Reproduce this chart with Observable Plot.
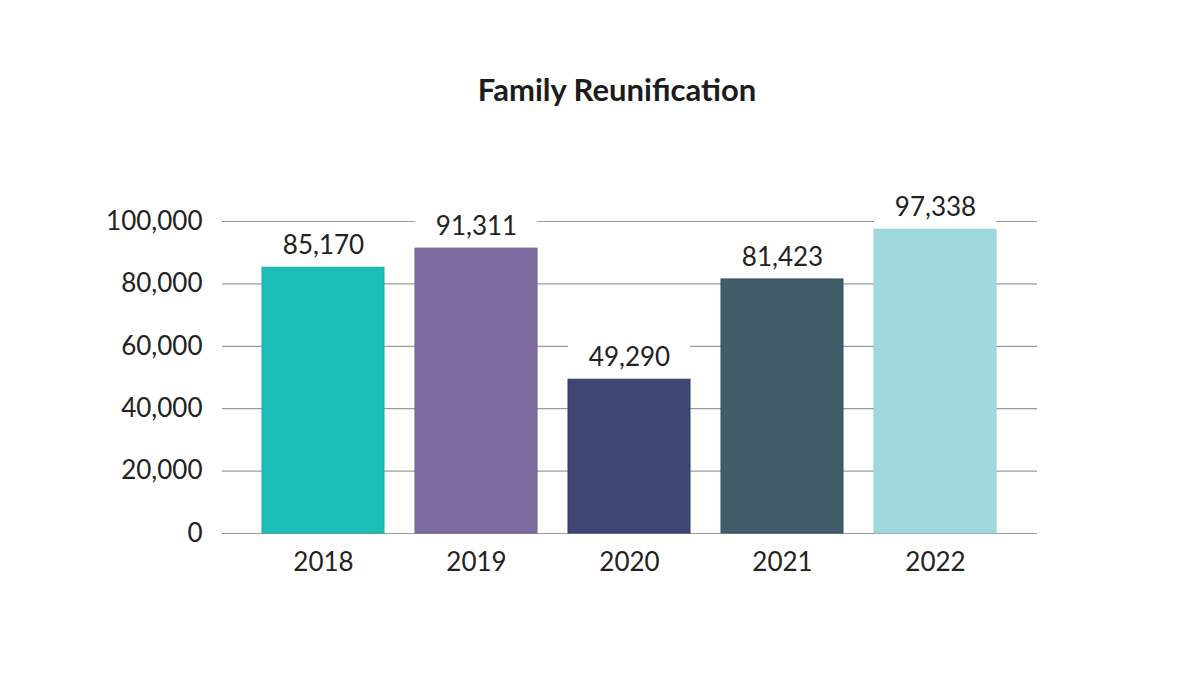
<!DOCTYPE html>
<html>
<head>
<meta charset="utf-8">
<script src="https://cdn.jsdelivr.net/npm/d3@7"></script>
<script src="https://cdn.jsdelivr.net/npm/@observablehq/plot@0.6"></script>
<style>
  html, body { margin: 0; padding: 0; background: #fff; }
  #wrap { width: 1200px; height: 692px; position: relative; overflow: hidden; }
  #title { position: absolute; left: 0; top: 67px; width: 1234px; height: 44px; text-align: center;
           font-family: Lato, "Noto Sans", sans-serif; font-weight: 700; font-size: 31px; color: #1c1c1c;
           line-height: 44px; }
  #chart { position: absolute; left: 0; top: 130px; }
</style>
</head>
<body>
<div id="wrap">
  <div id="title">Family Reunification</div>
  <div id="chart"></div>
</div>
<script>
const years = ["2018", "2019", "2020", "2021", "2022"];
const values = [85170, 91311, 49290, 81423, 97338];
const colors = ["#1dbdb8", "#7d6b9e", "#3e4473", "#415c6b", "#9fd9de"];
const strokes = ["#19aca7", "#6f5f8f", "#343a66", "#37515f", "#93cfd4"];
const yTicks = [0, 20000, 40000, 60000, 80000, 100000];

const data = years.map((y, i) => ({year: y, value: values[i], color: colors[i], stroke: strokes[i]}));
const fmt = d3.format(",");

const plot = Plot.plot({
  width: 1200,
  height: 562,
  marginLeft: 222,
  marginRight: 163,
  marginTop: 91,
  marginBottom: 159,
  insetLeft: 23,
  insetRight: 23,
  style: {fontFamily: "Lato, 'Noto Sans', sans-serif", fontSize: "26px", color: "#1a1a1a", background: "#fff"},
  x: {domain: years, paddingInner: 0.2, paddingOuter: 0.1, label: null},
  y: {domain: [0, 100000], label: null},
  marks: [
    Plot.ruleY(yTicks, {stroke: "#9b9b9b", strokeWidth: 1.2}),
    Plot.barY(data, {x: "year", y1: "value", y2: "value", fill: "#fff", insetTop: -40}),
    Plot.barY(data, {x: "year", y: "value", fill: "color", stroke: "stroke", strokeWidth: 1}),
    Plot.text(data, {x: "year", y: "value", text: d => fmt(d.value), dy: -22, fill: "#222",
                     fontSize: 26, fontWeight: 400}),
    Plot.axisY(yTicks, {tickSize: 0, tickPadding: 20, tickFormat: fmt, fontSize: 26, fontWeight: 400, fill: "#222"}),
    Plot.axisX({tickSize: 0, tickPadding: 19, fontSize: 26, fontWeight: 400, fill: "#222"})
  ]
});
document.getElementById("chart").appendChild(plot);
</script>
</body>
</html>
